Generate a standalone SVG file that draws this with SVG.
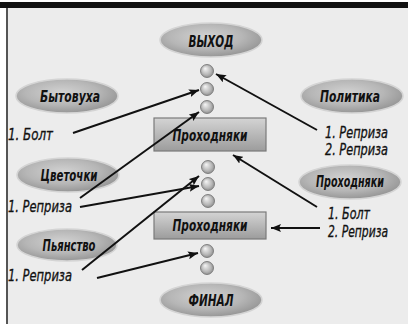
<svg xmlns="http://www.w3.org/2000/svg" width="408" height="327" viewBox="0 0 408 327">
<defs>
<radialGradient id="eg" cx="0.45" cy="0.4" r="0.6">
<stop offset="0" stop-color="#d2d2d2"/>
<stop offset="0.6" stop-color="#b6b6b6"/>
<stop offset="1" stop-color="#969696"/>
</radialGradient>
<radialGradient id="bg" cx="0.5" cy="0.5" fx="0.35" fy="0.3" r="0.6">
<stop offset="0" stop-color="#f6f6f6"/>
<stop offset="0.6" stop-color="#b8b8b8"/>
<stop offset="1" stop-color="#7e7e7e"/>
</radialGradient>
<linearGradient id="xg" x1="0" y1="0" x2="0" y2="1">
<stop offset="0" stop-color="#d4d4d4"/>
<stop offset="1" stop-color="#9c9c9c"/>
</linearGradient>
<marker id="ah" viewBox="0 0 10 8" refX="10" refY="4" markerWidth="10" markerHeight="8" markerUnits="userSpaceOnUse" orient="auto">
<path d="M0,0 L10,4 L0,8 L2,4 z" fill="#111"/>
</marker>
<style>
.el{fill:url(#eg);stroke:#d4d4d4;stroke-width:1.5}
.ball{fill:url(#bg);stroke:#6e6e6e;stroke-width:0.8}
.box{fill:url(#xg);stroke:#7a7a7a;stroke-width:1.2}
.nt{font-family:"DejaVu Sans Condensed","DejaVu Sans",sans-serif;font-stretch:condensed;font-style:italic;font-weight:bold;font-size:16px;fill:#111;text-anchor:middle}
.lb{font-family:"DejaVu Sans Condensed","DejaVu Sans",sans-serif;font-stretch:condensed;font-style:italic;font-size:15px;fill:#111;stroke:#111;stroke-width:0.3}
.ln{stroke:#111;stroke-width:2;fill:none;marker-end:url(#ah)}
</style>
</defs>
<rect x="0" y="0" width="408" height="327" fill="#ffffff"/>
<rect x="8" y="8" width="400" height="316" fill="#ececec"/>
<rect x="0" y="2" width="408" height="6" fill="#111"/>
<rect x="6" y="8" width="2" height="316" fill="#555"/>

<g id="vyhod"><ellipse class="el" cx="211" cy="40" rx="51" ry="17"/><text class="nt" x="211" y="47" font-size="18" textLength="45" lengthAdjust="spacingAndGlyphs">ВЫХОД</text></g>
<g id="bytovuha"><ellipse class="el" cx="67" cy="96" rx="51" ry="17"/><text class="nt" x="70" y="102" textLength="60" lengthAdjust="spacingAndGlyphs">Бытовуха</text></g>
<g id="politika"><ellipse class="el" cx="352" cy="96" rx="51" ry="17"/><text class="nt" x="350" y="102" textLength="60" lengthAdjust="spacingAndGlyphs">Политика</text></g>
<g id="cvetochki"><ellipse class="el" cx="68" cy="175" rx="51" ry="17"/><text class="nt" x="69" y="181" textLength="57" lengthAdjust="spacingAndGlyphs">Цветочки</text></g>
<g id="prohodnyaki-r"><ellipse class="el" cx="350" cy="182" rx="51" ry="17"/><text class="nt" x="350" y="187" font-size="15" textLength="68" lengthAdjust="spacingAndGlyphs">Проходняки</text></g>
<g id="pyanstvo"><ellipse class="el" cx="67" cy="245" rx="50" ry="16"/><text class="nt" x="69" y="251" textLength="53" lengthAdjust="spacingAndGlyphs">Пьянство</text></g>
<g id="final"><ellipse class="el" cx="211" cy="300" rx="51" ry="17"/><text class="nt" x="211" y="306" font-size="17" textLength="45" lengthAdjust="spacingAndGlyphs">ФИНАЛ</text></g>

<g id="box1"><rect class="box" x="154" y="118" width="112" height="33"/><text class="nt" x="210" y="141" textLength="75" lengthAdjust="spacingAndGlyphs">Проходняки</text></g>
<g id="box2"><rect class="box" x="154" y="212" width="112" height="27"/><text class="nt" x="210" y="231" textLength="75" lengthAdjust="spacingAndGlyphs">Проходняки</text></g>

<g id="balls">
<circle class="ball" cx="207" cy="71" r="6.5"/>
<circle class="ball" cx="207" cy="89" r="6.5"/>
<circle class="ball" cx="207" cy="107" r="6.5"/>
<circle class="ball" cx="208" cy="167" r="6.5"/>
<circle class="ball" cx="208" cy="184" r="6.5"/>
<circle class="ball" cx="208" cy="201" r="6.5"/>
<circle class="ball" cx="207" cy="251" r="6.5"/>
<circle class="ball" cx="207" cy="268" r="6.5"/>
</g>

<g id="labels">
<text class="lb" x="8" y="140" textLength="45" lengthAdjust="spacingAndGlyphs">1. Болт</text>
<text class="lb" x="8" y="212" textLength="64" lengthAdjust="spacingAndGlyphs">1. Реприза</text>
<text class="lb" x="8" y="281" textLength="64" lengthAdjust="spacingAndGlyphs">1. Реприза</text>
<text class="lb" x="325" y="138" textLength="63" lengthAdjust="spacingAndGlyphs">1. Реприза</text>
<text class="lb" x="325" y="155" textLength="63" lengthAdjust="spacingAndGlyphs">2. Реприза</text>
<text class="lb" x="328" y="219" textLength="42" lengthAdjust="spacingAndGlyphs">1. Болт</text>
<text class="lb" x="328" y="237" textLength="60" lengthAdjust="spacingAndGlyphs">2. Реприза</text>
</g>

<g id="connectors">
<line class="ln" x1="73" y1="133" x2="199" y2="90"/>
<line class="ln" x1="317" y1="130" x2="216" y2="74"/>
<line class="ln" x1="80" y1="198" x2="199" y2="112"/>
<line class="ln" x1="80" y1="207" x2="199" y2="186"/>
<line class="ln" x1="82" y1="270" x2="199" y2="176"/>
<line class="ln" x1="317" y1="207" x2="233" y2="155"/>
<line class="ln" x1="320" y1="228" x2="271" y2="228"/>
<line class="ln" x1="97" y1="278" x2="198" y2="253"/>
</g>
</svg>
